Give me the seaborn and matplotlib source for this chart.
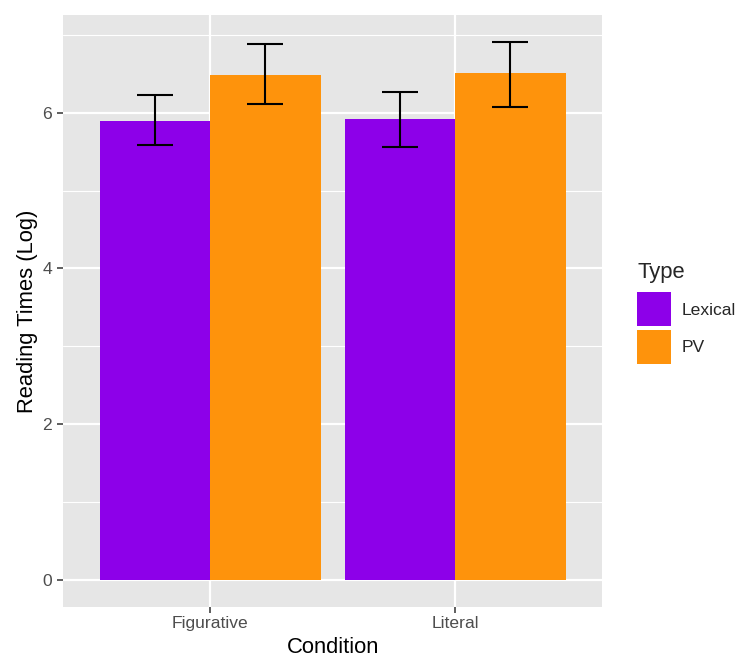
import pandas as pd
import matplotlib
matplotlib.use("Agg")
from matplotlib import pyplot as plt
from matplotlib.patches import Patch
from matplotlib.ticker import FixedLocator
import seaborn as sns

# 값
conditions = ["Figurative", "Literal"]
types = ["Lexical", "PV"]
lexical_mean = [5.90, 5.92]
pv_mean = [6.48, 6.51]
lexical_low = [5.59, 5.56]
lexical_high = [6.23, 6.27]
pv_low = [6.11, 6.08]
pv_high = [6.88, 6.91]
colors = ["#8D00E9", "#FE930C"]

df = pd.DataFrame({
    "Condition": conditions * 2,
    "Type": [types[0]] * 2 + [types[1]] * 2,
    "rt": lexical_mean + pv_mean,
})

sns.set_theme(style="darkgrid", rc={"axes.facecolor": "#E6E6E6",
                                     "grid.color": "white"})
plt.rcParams["font.family"] = ["Liberation Sans", "DejaVu Sans"]

fig = plt.figure(figsize=(7.43, 6.57), dpi=100)
ax = fig.add_axes([63.3 / 743, 1 - 606.7 / 657, 539 / 743, 591.7 / 657])

sns.barplot(data=df, x="Condition", y="rt", hue="Type", palette=colors,
            width=0.9, errorbar=None, saturation=1, linewidth=0,
            legend=False, ax=ax)

# 에러바
lows = [lexical_low, pv_low]
highs = [lexical_high, pv_high]
means = [lexical_mean, pv_mean]
for cont, m, lo, hi in zip(ax.containers, means, lows, highs):
    xs = [p.get_x() + p.get_width() / 2 for p in cont.patches]
    err = [[a - b for a, b in zip(m, lo)], [b - a for a, b in zip(m, hi)]]
    ax.errorbar(xs, m, yerr=err, fmt="none", ecolor="black",
                elinewidth=1.5, capsize=13.3, capthick=1.5, zorder=5)

top = max(lexical_high + pv_high)
ax.set_ylim(-0.05 * top, top * 1.05)
ax.set_xlim(-0.6, 1.6)
ax.yaxis.set_major_locator(FixedLocator([0, 2, 4, 6]))
ax.yaxis.set_minor_locator(FixedLocator([1, 3, 5, 7]))
ax.grid(which="major", color="white", linewidth=1.6)
ax.grid(which="minor", axis="y", color="white", linewidth=0.8)
ax.set_axisbelow(True)
for s in ax.spines.values():
    s.set_visible(False)

ax.tick_params(axis="both", which="major", length=4, width=1.1,
               color="#333333", labelcolor="#4D4D4D", labelsize=12.6,
               pad=3, bottom=True, left=True)
ax.tick_params(axis="y", which="major", pad=4)
ax.tick_params(which="minor", length=0)

ax.set_xlabel("Condition", fontsize=15.8, color="black")
ax.set_ylabel("Reading Times (Log)", fontsize=15.8, color="black")
ax.xaxis.set_label_coords(0.5, -(653 - 606.7) / 591.7)
ax.xaxis.label.set_va("baseline")
ax.yaxis.set_label_coords(-(63.3 - 33.3) / 539, 0.5)
ax.yaxis.label.set_va("baseline")

handles = [Patch(facecolor=c, edgecolor="none", label=t) for c, t in zip(colors, types)]
leg = fig.legend(handles=handles, title="Type", loc="upper left",
                 bbox_to_anchor=(637 / 743, 1 - 262 / 657), frameon=False,
                 fontsize=12.6, title_fontsize=15.8, handlelength=1.94,
                 handleheight=2.61, labelspacing=0.18, handletextpad=0.63,
                 borderpad=0, borderaxespad=0, alignment="left")
leg._legend_box.sep = 6.8  # 제목과 항목 사이 간격

fig.savefig("out.png", dpi=100)
